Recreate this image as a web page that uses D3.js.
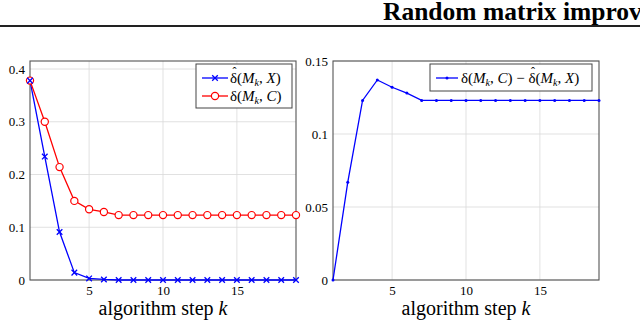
<!DOCTYPE html>
<html>
<head>
<meta charset="utf-8">
<script src="https://cdn.jsdelivr.net/npm/d3@7"></script>
<style>
  body { margin: 0; background: #fff; }
  svg { display: block; }
  text { font-family: "Liberation Serif", "DejaVu Serif", serif; fill: #000; }
  .grid line { stroke: #d9d9d9; stroke-width: 0.8; }
  .frame { fill: none; stroke: #555; stroke-width: 1.1; }
  .tick text { font-size: 13px; }
</style>
</head>
<body>
<div id="chart"></div>
<script>
// data
let steps = [1, 2, 3, 4, 5, 6, 7, 8, 9, 10, 11, 12, 13, 14, 15, 16, 17, 18, 19];
let deltaHatX = [0.378, 0.234, 0.091, 0.014, 0.003, 0.001, 0, 0, 0, 0, 0, 0, 0, 0, 0, 0, 0, 0, 0];
let deltaC = [0.378, 0.300, 0.214, 0.150, 0.134, 0.129, 0.123, 0.123, 0.123, 0.123, 0.123, 0.123, 0.123, 0.123, 0.123, 0.123, 0.123, 0.123, 0.123];
let deltaDiff = [0, 0.067, 0.123, 0.137, 0.132, 0.128, 0.123, 0.123, 0.123, 0.123, 0.123, 0.123, 0.123, 0.123, 0.123, 0.123, 0.123, 0.123, 0.123];
let xTicks = [5, 10, 15];
let yTicksLeft = [0, 0.1, 0.2, 0.3, 0.4];
let yTicksRight = [0, 0.05, 0.1, 0.15];
let titleText = "Random matrix improv";
let xLabel = "algorithm step ";

let W = 640, H = 322;
let svg = d3.select("#chart").append("svg")
  .attr("width", W)
  .attr("height", H);

// header
svg.append("text")
  .attr("x", 383)
  .attr("y", 20)
  .attr("font-size", "25.5px")
  .attr("font-weight", "bold")
  .text(titleText);

svg.append("line")
  .attr("x1", 0).attr("x2", W)
  .attr("y1", 26).attr("y2", 26)
  .attr("stroke", "#222")
  .attr("stroke-width", 1.8);

// writes a math-ish label like  δ(M_k, C)  into a text element,
// hats go in as extra tspans at the end, placed over their letter
function mathText(sel, parts) {
  let hats = [];
  parts.forEach(p => {
    let t = sel.append("tspan").text(p.t);
    if (p.it) t.attr("font-style", "italic");
    if (p.sub) t.attr("font-size", "10px").attr("dy", 3);
    if (p.back) t.attr("dy", -3);
    if (p.hat) hats.push(t);
  });
  let boxes = hats.map(t => t.node().getBBox());
  boxes.forEach(b => {
    sel.append("tspan")
      .attr("x", b.x + b.width / 2 + 1)
      .attr("y", b.y + 6)
      .attr("text-anchor", "middle")
      .attr("font-size", "12px")
      .text("ˆ");
  });
}

let hatX = [
  {t: "δ", hat: 1}, {t: "("}, {t: "M", it: 1}, {t: "k", it: 1, sub: 1}, {t: ", ", back: 1}, {t: "X", it: 1}, {t: ")"}
];
let plainC = [
  {t: "δ("}, {t: "M", it: 1}, {t: "k", it: 1, sub: 1}, {t: ", ", back: 1}, {t: "C", it: 1}, {t: ")"}
];
let diffLabel = [
  {t: "δ("}, {t: "M", it: 1}, {t: "k", it: 1, sub: 1}, {t: ", ", back: 1}, {t: "C", it: 1}, {t: ") − "},
  {t: "δ", hat: 1}, {t: "("},
  {t: "M", it: 1}, {t: "k", it: 1, sub: 1}, {t: ", ", back: 1}, {t: "X", it: 1}, {t: ")"}
];

function panel(opt) {
  let g = svg.append("g");
  let x = d3.scaleLinear().domain([1, 19]).range([opt.x0, opt.x1]);
  let y = d3.scaleLinear().domain([0, opt.ymax]).range([280, 61]);

  // grid
  let grid = g.append("g").attr("class", "grid");
  grid.selectAll(".gx").data(xTicks).enter().append("line")
    .attr("x1", d => x(d)).attr("x2", d => x(d))
    .attr("y1", 280).attr("y2", 61);
  grid.selectAll(".gy").data(opt.yTicks).enter().append("line")
    .attr("x1", opt.x0).attr("x2", opt.x1)
    .attr("y1", d => y(d)).attr("y2", d => y(d));

  // axes labels
  let ax = g.append("g")
    .attr("transform", "translate(0,280)")
    .call(d3.axisBottom(x).tickValues(xTicks).tickSize(0).tickPadding(6).tickFormat(d3.format("d")));
  let ay = g.append("g")
    .attr("transform", "translate(" + opt.x0 + ",0)")
    .call(d3.axisLeft(y).tickValues(opt.yTicks).tickSize(0).tickPadding(5).tickFormat(d => String(d)));
  [ax, ay].forEach(a => {
    a.select(".domain").remove();
    a.attr("font-family", null).attr("font-size", null);
  });

  // frame
  g.append("rect").attr("class", "frame")
    .attr("x", opt.x0).attr("y", 61)
    .attr("width", opt.x1 - opt.x0).attr("height", 219);

  // x label
  let xl = g.append("text")
    .attr("x", (opt.x0 + opt.x1) / 2)
    .attr("y", 315)
    .attr("text-anchor", "middle")
    .attr("font-size", "20px")
    .text(xLabel);
  xl.append("tspan").attr("font-style", "italic").text("k");

  return {g: g, x: x, y: y};
}

let line = (sx, sy) => d3.line().x((d, i) => sx(steps[i])).y(d => sy(d));

// left panel
let L = panel({x0: 30, x1: 296, ymax: 0.4152, yTicks: yTicksLeft});
L.g.append("path").datum(deltaHatX)
  .attr("d", line(L.x, L.y))
  .attr("fill", "none").attr("stroke", "#0000ff").attr("stroke-width", 1.3);
L.g.append("path").datum(deltaC)
  .attr("d", line(L.x, L.y))
  .attr("fill", "none").attr("stroke", "#ff0000").attr("stroke-width", 1.3);

function cross(sel, cx, cy, r, color) {
  sel.append("path")
    .attr("d", `M${cx - r},${cy - r}L${cx + r},${cy + r}M${cx - r},${cy + r}L${cx + r},${cy - r}`)
    .attr("stroke", color).attr("stroke-width", 1.3).attr("fill", "none");
}

L.g.selectAll(".mc").data(deltaC).enter().append("circle")
  .attr("cx", (d, i) => L.x(steps[i])).attr("cy", d => L.y(d))
  .attr("r", 3.6)
  .attr("fill", "#fff").attr("stroke", "#ff0000").attr("stroke-width", 1.2);
deltaHatX.forEach((d, i) => cross(L.g, L.x(steps[i]), L.y(d), 2.8, "#0000ff"));

// left legend
let lg = L.g.append("g").attr("transform", "translate(196,64)");
lg.append("rect").attr("width", 96).attr("height", 44)
  .attr("fill", "#fff").attr("stroke", "#444").attr("stroke-width", 1);
lg.append("line").attr("x1", 6).attr("x2", 32).attr("y1", 14).attr("y2", 14)
  .attr("stroke", "#0000ff").attr("stroke-width", 1.3);
cross(lg, 19, 14, 2.8, "#0000ff");
lg.append("line").attr("x1", 6).attr("x2", 32).attr("y1", 32).attr("y2", 32)
  .attr("stroke", "#ff0000").attr("stroke-width", 1.3);
lg.append("circle").attr("cx", 19).attr("cy", 32).attr("r", 3.6)
  .attr("fill", "#fff").attr("stroke", "#ff0000").attr("stroke-width", 1.2);
mathText(lg.append("text").attr("x", 34).attr("y", 19).attr("font-size", "15px"), hatX);
mathText(lg.append("text").attr("x", 34).attr("y", 37).attr("font-size", "15px"), plainC);

// right panel
let R = panel({x0: 333, x1: 599, ymax: 0.15, yTicks: yTicksRight});
R.g.append("path").datum(deltaDiff)
  .attr("d", line(R.x, R.y))
  .attr("fill", "none").attr("stroke", "#0000ff").attr("stroke-width", 1.3);
R.g.selectAll(".md").data(deltaDiff).enter().append("circle")
  .attr("cx", (d, i) => R.x(steps[i])).attr("cy", d => R.y(d))
  .attr("r", 1.5).attr("fill", "#0000ff");

// right legend
let rg = R.g.append("g").attr("transform", "translate(430,64)");
rg.append("rect").attr("width", 162).attr("height", 27)
  .attr("fill", "#fff").attr("stroke", "#444").attr("stroke-width", 1);
rg.append("line").attr("x1", 6).attr("x2", 28).attr("y1", 14).attr("y2", 14)
  .attr("stroke", "#0000ff").attr("stroke-width", 1.3);
rg.append("circle").attr("cx", 17).attr("cy", 14).attr("r", 1.5).attr("fill", "#0000ff");
mathText(rg.append("text").attr("x", 31).attr("y", 19).attr("font-size", "15px"), diffLabel);
</script>
</body>
</html>
